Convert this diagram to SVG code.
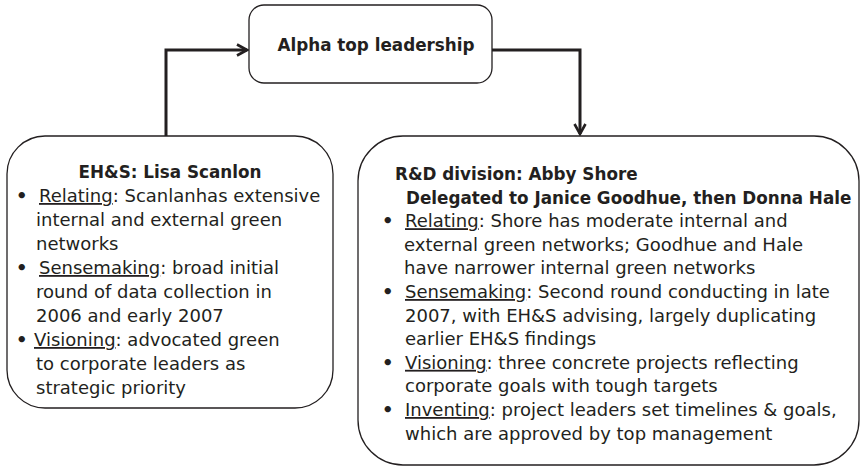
<svg xmlns="http://www.w3.org/2000/svg" width="860" height="468" viewBox="0 0 860 468">
  <defs>
    <style>
      .box { fill: #ffffff; stroke: #231f20; stroke-width: 1.3; }
      .conn { fill: none; stroke: #231f20; stroke-width: 3; }
      .t { font-family: "DejaVu Sans", "Liberation Sans", sans-serif; font-size: 18px; fill: #231f20; }
      .b { font-weight: bold; font-size: 16.8px; }
      .bul { font-weight: bold; font-size: 18px; }
      .u { text-decoration: underline; }
    </style>
    <marker id="arrow" viewBox="0 0 14 14" refX="12" refY="7" markerWidth="14" markerHeight="14" markerUnits="userSpaceOnUse" orient="auto">
      <path d="M2,1.5 L12,7 L2,12.5" fill="none" stroke="#231f20" stroke-width="2.6" stroke-linejoin="miter"/>
    </marker>
  </defs>
  <rect width="860" height="468" fill="#ffffff"/>

  <g id="connectors">
    <path class="conn" d="M166,136 L166,50 L247,50" marker-end="url(#arrow)"/>
    <path class="conn" d="M492,50 L580,50 L580,134" marker-end="url(#arrow)"/>
  </g>

  <g id="node-top">
    <rect class="box" x="249" y="5" width="243" height="78" rx="15" ry="15"/>
    <text class="t b" x="376" y="51" text-anchor="middle">Alpha top leadership</text>
  </g>

  <g id="node-ehs">
    <rect class="box" x="7" y="136" width="326" height="272" rx="38" ry="38"/>
    <text class="t b" x="170" y="178" text-anchor="middle">EH&amp;S: Lisa Scanlon</text>
    <text class="t bul" x="16" y="202">•</text>
    <text class="t" x="39" y="202"><tspan class="u">Relating</tspan>: Scanlanhas extensive</text>
    <text class="t" x="36" y="226">internal and external green</text>
    <text class="t" x="36" y="250">networks</text>
    <text class="t bul" x="16" y="274">•</text>
    <text class="t" x="39" y="274"><tspan class="u">Sensemaking</tspan>: broad initial</text>
    <text class="t" x="36" y="298">round of data collection in</text>
    <text class="t" x="36" y="322">2006 and early 2007</text>
    <text class="t bul" x="16" y="346">•</text>
    <text class="t" x="34" y="346"><tspan class="u">Visioning</tspan>: advocated green</text>
    <text class="t" x="36" y="370">to corporate leaders as</text>
    <text class="t" x="36" y="394">strategic priority</text>
  </g>

  <g id="node-rd">
    <rect class="box" x="358" y="136" width="501" height="329" rx="45" ry="45"/>
    <text class="t b" x="395" y="180">R&amp;D division: Abby Shore</text>
    <text class="t b" x="406" y="203.6">Delegated to Janice Goodhue, then Donna Hale</text>
    <text class="t bul" x="382" y="227.2">•</text>
    <text class="t" x="405" y="227.2"><tspan class="u">Relating</tspan>: Shore has moderate internal and</text>
    <text class="t" x="404" y="250.8">external green networks; Goodhue and Hale</text>
    <text class="t" x="404" y="274.4">have narrower internal green networks</text>
    <text class="t bul" x="382" y="298">•</text>
    <text class="t" x="405" y="298"><tspan class="u">Sensemaking</tspan>: Second round conducting in late</text>
    <text class="t" x="405" y="321.6">2007, with EH&amp;S advising, largely duplicating</text>
    <text class="t" x="405" y="345.2">earlier EH&amp;S findings</text>
    <text class="t bul" x="382" y="368.8">•</text>
    <text class="t" x="405" y="368.8"><tspan class="u">Visioning</tspan>: three concrete projects reflecting</text>
    <text class="t" x="405" y="392.4">corporate goals with tough targets</text>
    <text class="t bul" x="382" y="416">•</text>
    <text class="t" x="405" y="416"><tspan class="u">Inventing</tspan>: project leaders set timelines &amp; goals,</text>
    <text class="t" x="405" y="439.6">which are approved by top management</text>
  </g>
</svg>
